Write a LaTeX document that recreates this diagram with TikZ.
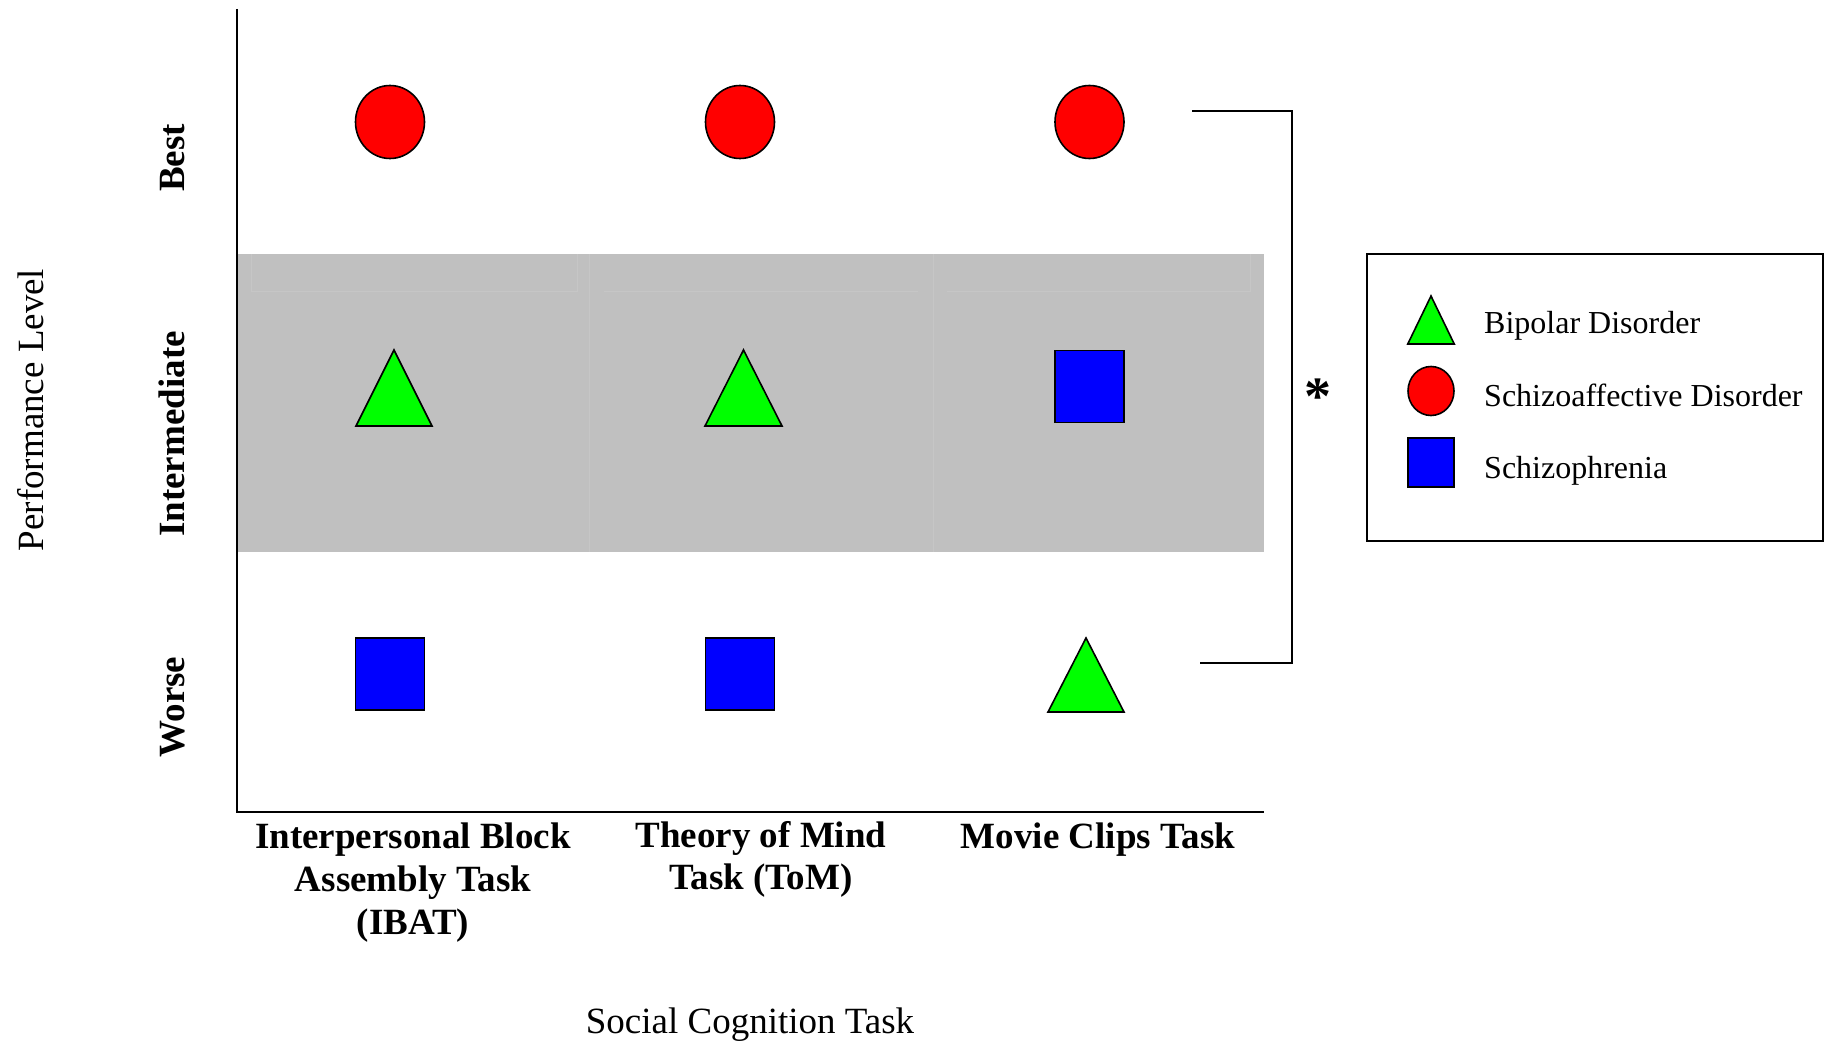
\documentclass[tikz,border=0pt]{standalone}
\usepackage{fontspec}
\setmainfont{Liberation Serif}
\usetikzlibrary{shapes.geometric}
\definecolor{bandgray}{RGB}{192,192,192}
\definecolor{seamgray}{RGB}{198,198,198}
\definecolor{mkred}{RGB}{255,0,0}
\definecolor{mkgreen}{RGB}{0,255,0}
\definecolor{mkblue}{RGB}{0,0,255}
\newcommand\mktri[5]{% name, xcenter, ybase, width, height
  \coordinate (#1) at (#2,#3);
  \draw[trist] (#2-#4/2,#3) -- (#2+#4/2,#3) -- (#2,#3-#5) -- cycle;}
\begin{document}
\begin{tikzpicture}[x=1pt,y=-1pt,
  mk/.style={draw=black, line width=1.6pt, inner sep=0pt, outer sep=0pt},
  circ/.style={mk, ellipse, fill=mkred, minimum width=69pt, minimum height=73pt},
  sq/.style={mk, rectangle, fill=mkblue, minimum width=69pt, minimum height=72pt},
  lcirc/.style={mk, ellipse, fill=mkred, minimum width=46pt, minimum height=49pt},
  lsq/.style={mk, rectangle, fill=mkblue, minimum width=46pt, minimum height=49pt},
  trist/.style={draw=black, line width=1.6pt, fill=mkgreen, line join=miter},
  axisline/.style={draw=black, line width=2.2pt},
  bracket/.style={draw=black, line width=2pt},
  lvl/.style={rotate=90, anchor=base, inner sep=0pt, font=\fontsize{37}{43}\selectfont\bfseries},
  task/.style={anchor=north, align=center, inner sep=0pt, font=\fontsize{37}{42.7}\selectfont\bfseries},
  legtext/.style={anchor=base west, inner sep=0pt, font=\fontsize{32}{38}\selectfont},
  title/.style={inner sep=0pt, font=\fontsize{37}{43}\selectfont}
]
\useasboundingbox (0,0) rectangle (1832,1046);
\fill[white] (0,0) rectangle (1832,1046);

% gray band
\fill[bandgray] (237,254) rectangle (1264,552);
\draw[seamgray, line width=0.7pt] (589,254) -- (589,552) (933,254) -- (933,552);
\draw[seamgray, line width=0.7pt] (251,254) -- (251,291) -- (577,291) -- (577,254);
\draw[seamgray, line width=0.7pt] (604,291) -- (918,291);
\draw[seamgray, line width=0.7pt] (947,291) -- (1250,291) -- (1250,254);

% axes
\coordinate (ytop) at (237,9);
\coordinate (origin) at (237,812);
\coordinate (xend) at (1264,812);
\draw[axisline] (ytop) -- (origin) -- (xend);

% level labels
\node[lvl] (best) at (184,158) {Best};
\node[lvl] (inter) at (184,434) {Intermediate};
\node[lvl] (worse) at (184,707) {Worse};
\node[title, rotate=90, anchor=base] (ylab) at (43.5,410) {Performance Level};

% markers: best row
\node[circ] (c1) at (390,122) {};
\node[circ] (c2) at (740,122) {};
\node[circ] (c3) at (1089.5,122) {};
% intermediate row
\mktri{t1}{394}{426}{76}{76}
\mktri{t2}{743.5}{426}{77}{76}
\node[sq] (s3) at (1089.5,386.5) {};
% worse row
\node[sq] (s1) at (390,674) {};
\node[sq] (s2) at (740,674) {};
\mktri{t3}{1086}{712}{76}{74}

% bracket
\coordinate (bt) at (1192,111);
\coordinate (bb) at (1200,663);
\coordinate (bx) at (1291.5,0);
\draw[bracket] (bt) -- (bt -| bx) -- (bb -| bx) -- (bb);
\node[inner sep=0pt, anchor=base, font=\fontsize{54}{60}\selectfont\bfseries] (star) at (1318,414) {*};

% task labels
\node[task] (ibat) at (413,823) {Interpersonal Block\\Assembly Task\\(IBAT)};
\node[task] (tom) at (761,821) {Theory of Mind\\Task (ToM)};
\node[task] (movie) at (1098,823) {Movie Clips Task};
\node[title, anchor=base] (xlab) at (750,1033) {Social Cognition Task};

% legend
\draw[line width=2pt] (1367,254) rectangle (1823,541);
\mktri{lt}{1431}{344}{46.5}{48}
\node[lcirc] (lc) at (1431,391) {};
\node[lsq] (ls) at (1431,462.5) {};
\node[legtext] (lbip) at (1484,333) {Bipolar Disorder};
\node[legtext] (lsch) at (1484,406) {Schizoaffective Disorder};
\node[legtext] (lszp) at (1484,478.5) {Schizophrenia};
\end{tikzpicture}
\end{document}
